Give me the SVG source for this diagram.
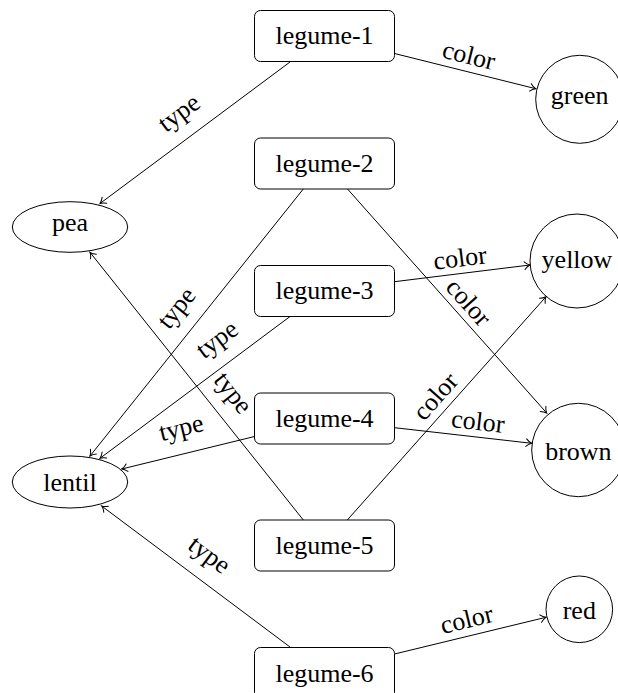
<svg xmlns="http://www.w3.org/2000/svg" width="618" height="693" viewBox="0 0 618 693">
<style>
text{font-family:'Liberation Serif','Times New Roman',serif;font-size:26px;fill:#000;text-anchor:middle}
.box{fill:#fff;stroke:#000;stroke-width:1}
.shape{fill:#fff;stroke:#000;stroke-width:1}
.edge{fill:none;stroke:#000;stroke-width:1;marker-end:url(#tip)}
</style>
<defs>
<marker id="tip" markerUnits="userSpaceOnUse" viewBox="-7 -5 9 10" refX="0" refY="0" markerWidth="9" markerHeight="10" orient="auto" overflow="visible">
<path d="M-5.5,-3.8 C-3.5,-1.6 -1.2,-0.4 0,0 C-1.2,0.4 -3.5,1.6 -5.5,3.8" fill="none" stroke="#000" stroke-width="1" stroke-linecap="round"/>
</marker>
</defs>
<g id="connectors">
<line class="edge" x1="290" y1="62" x2="100" y2="203.5"/>
<line class="edge" x1="394.5" y1="53.5" x2="535.7" y2="88.7"/>
<line class="edge" x1="303.3" y1="189" x2="90" y2="456"/>
<line class="edge" x1="347.5" y1="189" x2="546.7" y2="413"/>
<line class="edge" x1="394.5" y1="281.7" x2="530" y2="265"/>
<line class="edge" x1="290" y1="316.5" x2="100" y2="458.3"/>
<line class="edge" x1="254.5" y1="436.5" x2="121.7" y2="469"/>
<line class="edge" x1="394.5" y1="427.7" x2="531.7" y2="443.3"/>
<line class="edge" x1="303.3" y1="520" x2="90" y2="252.3"/>
<line class="edge" x1="347.3" y1="520" x2="546" y2="296.7"/>
<line class="edge" x1="290" y1="647" x2="101.7" y2="506"/>
<line class="edge" x1="394.5" y1="654" x2="546" y2="617.3"/>
<text transform="translate(181,115.5) rotate(-36.7)" y="5">type</text>
<text transform="translate(469,55) rotate(14)" y="9">color</text>
<text transform="translate(179,310) rotate(-51.4)" y="5">type</text>
<text transform="translate(469,302) rotate(48.4)" y="9">color</text>
<text transform="translate(460,257.5) rotate(-7)" y="9">color</text>
<text transform="translate(219,342) rotate(-36.7)" y="5">type</text>
<text transform="translate(182,431) rotate(-13.75)" y="5">type</text>
<text transform="translate(478,421) rotate(6.5)" y="9">color</text>
<text transform="translate(230.5,395) rotate(51.45)" y="5">type</text>
<text transform="translate(435,396) rotate(-48.3)" y="9">color</text>
<text transform="translate(207.5,557.5) rotate(36.8)" y="5">type</text>
<text transform="translate(466.5,619) rotate(-13.6)" y="9">color</text>
</g>
<g id="legume-1"><rect class="box" x="254.5" y="10.5" width="140" height="51" rx="6"/><text x="324.5" y="44">legume-1</text></g>
<g id="legume-2"><rect class="box" x="254.5" y="138" width="140" height="51" rx="6"/><text x="324.5" y="171.5">legume-2</text></g>
<g id="legume-3"><rect class="box" x="254.5" y="265.5" width="140" height="51" rx="6"/><text x="324.5" y="299">legume-3</text></g>
<g id="legume-4"><rect class="box" x="254.5" y="393" width="140" height="51" rx="6"/><text x="324.5" y="426.5">legume-4</text></g>
<g id="legume-5"><rect class="box" x="254.5" y="520" width="140" height="51" rx="6"/><text x="324.5" y="554">legume-5</text></g>
<g id="legume-6"><rect class="box" x="254.5" y="647.5" width="140" height="51" rx="6"/><text x="324.5" y="681.5">legume-6</text></g>
<g id="pea"><ellipse class="shape" cx="70" cy="227" rx="57.7" ry="25.3"/><text x="70" y="231">pea</text></g>
<g id="lentil"><ellipse class="shape" cx="70" cy="482" rx="57.7" ry="26"/><text x="70" y="491">lentil</text></g>
<g id="green"><circle class="shape" cx="579.7" cy="99.3" r="44"/><text x="579.7" y="103.5">green</text></g>
<g id="yellow"><circle class="shape" cx="577" cy="261" r="47"/><text x="577" y="267.5">yellow</text></g>
<g id="brown"><circle class="shape" cx="578.4" cy="450" r="46.7"/><text x="578.4" y="459.5">brown</text></g>
<g id="red"><circle class="shape" cx="579.3" cy="609.3" r="33.3"/><text x="579.3" y="618.5">red</text></g>
</svg>
